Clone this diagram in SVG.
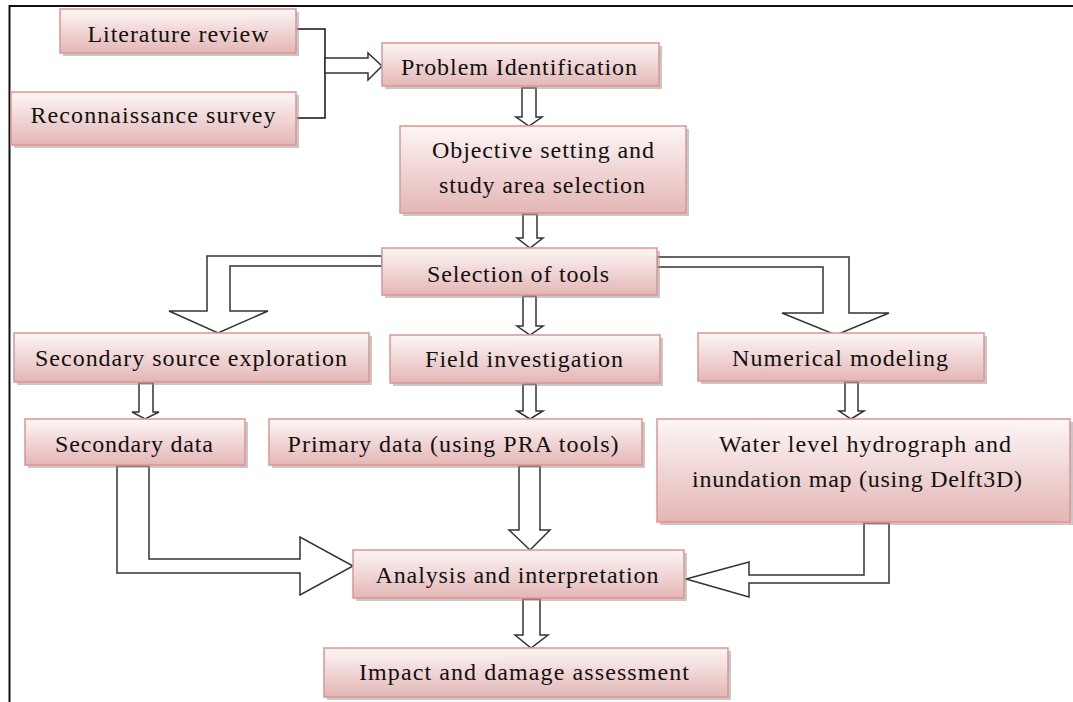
<svg xmlns="http://www.w3.org/2000/svg" width="1073" height="702" viewBox="0 0 1073 702">
<defs>
<linearGradient id="g" x1="0" y1="0" x2="0" y2="1">
<stop offset="0" stop-color="#fdf6f6"/>
<stop offset="1" stop-color="#e4b6b5"/>
</linearGradient>
<style>
.box{fill:url(#g);stroke:#d99694;stroke-width:1.5}
.sh{fill:#9a9a9a;opacity:.55}
.t{font-family:"Liberation Serif","Times New Roman",serif;font-size:24px;fill:#111;text-anchor:middle}
.ar{fill:#fff;stroke:#333;stroke-width:1.5;stroke-linejoin:miter}
.ln{fill:none;stroke:#111;stroke-width:1.5}
</style>
</defs>
<rect width="1073" height="702" fill="#fff"/>
<g id="frame">
<line x1="9" y1="6" x2="1073" y2="6" stroke="#111" stroke-width="2"/>
<line x1="9.5" y1="5" x2="9.5" y2="702" stroke="#111" stroke-width="2"/>
</g>
<g id="connectors">
<polyline class="ln" points="297,29 325,29 325,118 297,118"/>
<path class="ar" d="M325,58 H368 V53 L382,66 L368,80 V73 H325 Z"/>
<path class="ar" d="M522,88 V117 H516 L529,126 L542,117 H536 V88 Z"/>
<path class="ar" d="M523,214 V238 H517 L530,248 L543,238 H537 V214 Z"/>
<path class="ar" d="M523,296 V326 H517 L530,335 L543,326 H536 V296 Z"/>
<path class="ar" d="M523,384 V411 H517 L530,419 L543,411 H536 V384 Z"/>
<path class="ar" d="M382,256 H207 V311 H169 L218,333 L268,311 H230 V266 H382 Z"/>
<path class="ar" d="M657,257 H849 V313 H889 L836,335 L782,313 H823 V267 H657 Z"/>
<path class="ar" d="M139,383 V412 H132 L145,419 L159,412 H153 V383 Z"/>
<path class="ar" d="M845,382 V411 H839 L851,419 L864,411 H858 V382 Z"/>
<path class="ar" d="M117,466 V573 H300 V595 L353,566 L300,537 V559 H149 V466 Z"/>
<path class="ar" d="M519,466 V530 H509 L530,550 L550,530 H540 V466 Z"/>
<path class="ar" d="M889,523 V583 H749 V597 L686,579 L749,562 V575 H864 V523 Z"/>
<path class="ar" d="M523,599 V635 H515 L531,648 L548,635 H540 V599 Z"/>
</g>
<g id="lit"><rect class="sh" x="63" y="12" width="236" height="44"/><rect class="box" x="60" y="9" width="236" height="44"/><text class="t" x="178" y="42" textLength="181" lengthAdjust="spacing">Literature review</text></g>
<g id="rec"><rect class="sh" x="14" y="95" width="285" height="53"/><rect class="box" x="11" y="92" width="285" height="53"/><text class="t" x="153" y="123" textLength="245" lengthAdjust="spacing">Reconnaissance survey</text></g>
<g id="pi"><rect class="sh" x="385" y="46" width="277" height="43"/><rect class="box" x="382" y="43" width="277" height="43"/><text class="t" x="519" y="75" textLength="236" lengthAdjust="spacing">Problem Identification</text></g>
<g id="obj"><rect class="sh" x="403" y="129" width="286" height="87"/><rect class="box" x="400" y="126" width="286" height="87"/><text class="t" x="543" y="158" textLength="222" lengthAdjust="spacing">Objective setting and</text><text class="t" x="542" y="193" textLength="206" lengthAdjust="spacing">study area selection</text></g>
<g id="sel"><rect class="sh" x="385" y="251" width="275" height="47"/><rect class="box" x="382" y="248" width="275" height="47"/><text class="t" x="518" y="282" textLength="182" lengthAdjust="spacing">Selection of tools</text></g>
<g id="sse"><rect class="sh" x="17" y="336" width="355" height="49"/><rect class="box" x="14" y="333" width="355" height="49"/><text class="t" x="191" y="366" textLength="312" lengthAdjust="spacing">Secondary source exploration</text></g>
<g id="field"><rect class="sh" x="393" y="338" width="270" height="48"/><rect class="box" x="390" y="335" width="270" height="48"/><text class="t" x="524" y="367" textLength="198" lengthAdjust="spacing">Field investigation</text></g>
<g id="nm"><rect class="sh" x="701" y="336" width="286" height="48"/><rect class="box" x="698" y="333" width="286" height="48"/><text class="t" x="840" y="366" textLength="216" lengthAdjust="spacing">Numerical modeling</text></g>
<g id="sd"><rect class="sh" x="28" y="422" width="220" height="46"/><rect class="box" x="25" y="419" width="220" height="46"/><text class="t" x="134" y="452" textLength="158" lengthAdjust="spacing">Secondary data</text></g>
<g id="pd"><rect class="sh" x="272" y="422" width="373" height="46"/><rect class="box" x="269" y="419" width="373" height="46"/><text class="t" x="453" y="452" textLength="331" lengthAdjust="spacing">Primary data (using PRA tools)</text></g>
<g id="wl"><rect class="sh" x="660" y="422" width="413" height="103"/><rect class="box" x="657" y="419" width="413" height="103"/><text class="t" x="865" y="452" textLength="292" lengthAdjust="spacing">Water level hydrograph and</text><text class="t" x="857" y="487" textLength="330" lengthAdjust="spacing">inundation map (using Delft3D)</text></g>
<g id="an"><rect class="sh" x="356" y="553" width="331" height="48"/><rect class="box" x="353" y="550" width="331" height="48"/><text class="t" x="517" y="583" textLength="283" lengthAdjust="spacing">Analysis and interpretation</text></g>
<g id="im"><rect class="sh" x="327" y="651" width="404" height="49"/><rect class="box" x="324" y="648" width="404" height="49"/><text class="t" x="524" y="680" textLength="330" lengthAdjust="spacing">Impact and damage assessment</text></g>
</svg>
